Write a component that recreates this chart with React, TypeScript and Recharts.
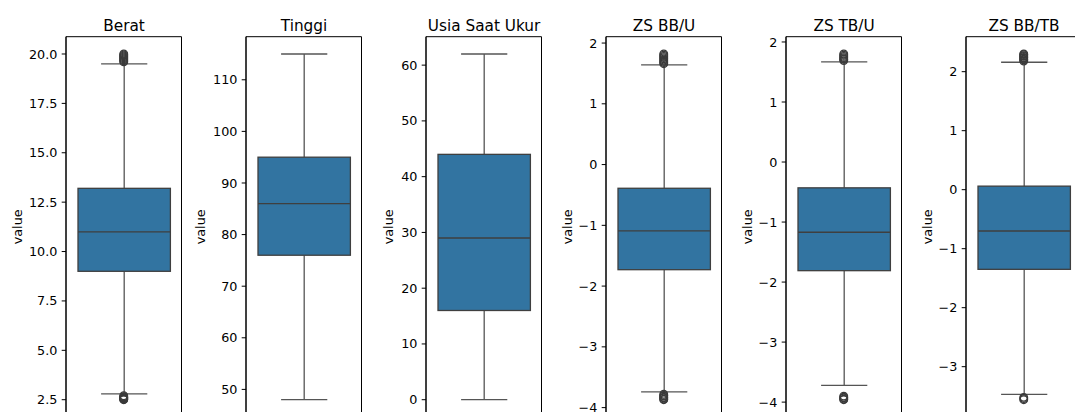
import React from "react";
import { ComposedChart, Bar, Scatter, XAxis, YAxis, ReferenceArea } from "recharts";

const CATEGORIES = ["Berat", "Tinggi", "Usia Saat Ukur", "ZS BB/U", "ZS TB/U", "ZS BB/TB"];
const WHISKER_LOW = [2.8, 48, 0, -3.74, -3.72, -3.47];
const Q1 = [9.0, 76, 16, -1.73, -1.81, -1.35];
const MEDIAN = [11.0, 86, 29, -1.09, -1.17, -0.7];
const Q3 = [13.2, 95, 44, -0.39, -0.43, 0.06];
const WHISKER_HIGH = [19.5, 115, 62, 1.64, 1.67, 2.16];
const OUTLIERS_HIGH = [
  [19.6, 19.65, 19.7, 19.75, 19.8, 19.85, 19.9, 19.95, 20.0],
  [],
  [],
  [1.66, 1.68, 1.7, 1.72, 1.74, 1.76, 1.78, 1.8, 1.82],
  [1.69, 1.71, 1.72, 1.74, 1.76, 1.78, 1.8],
  [2.18, 2.2, 2.21, 2.23, 2.24, 2.26, 2.27, 2.29, 2.3],
];
const OUTLIERS_LOW = [
  [2.5, 2.52, 2.55, 2.58, 2.6, 2.63, 2.65, 2.7],
  [],
  [],
  [-3.78, -3.8, -3.81, -3.83, -3.84, -3.86, -3.87],
  [-3.9, -3.92, -3.93, -3.95, -3.96],
  [-3.52, -3.54, -3.56],
];
const Y_TICKS = [
  [2.5, 5, 7.5, 10, 12.5, 15, 17.5, 20],
  [50, 60, 70, 80, 90, 100, 110],
  [0, 10, 20, 30, 40, 50, 60],
  [-4, -3, -2, -1, 0, 1, 2],
  [-4, -3, -2, -1, 0, 1, 2],
  [-3, -2, -1, 0, 1, 2],
];
const TICK_DECIMALS = [1, 0, 0, 0, 0, 0];
const LABEL_OFFSET = [49, 45.5, 38, 38.5, 39, 39];

const FONT = "DejaVu Sans, sans-serif";
const BOX_FILL = "#3274a1";
const LINE = "#3f3f3f";
const AXW = 60;
const PLOT_W = 115.5;
const PLOT_TOP = 36.7;
const PLOT_BOTTOM = 417;
const CH = 420;

const fmt = (v: number, d: number) => v.toFixed(d).replace("-", "\u2212");

function BoxShape(props: any) {
  const { x, y, width, height } = props;
  const p = props.payload ?? props;
  const top = Math.min(y, y + height);
  const bot = Math.max(y, y + height);
  const ppu = (bot - top) / (p.q3 - p.q1);
  const py = (v: number) => bot - (v - p.q1) * ppu;
  const cx = x + width / 2;
  const cap = width / 4;
  return (
    <g>
      <line x1={cx} x2={cx} y1={py(p.q3)} y2={py(p.hi)} stroke="#555" strokeWidth={1.3} />
      <line x1={cx} x2={cx} y1={py(p.q1)} y2={py(p.lo)} stroke="#555" strokeWidth={1.3} />
      <line x1={cx - cap} x2={cx + cap} y1={py(p.hi)} y2={py(p.hi)} stroke="#555" strokeWidth={1.3} />
      <line x1={cx - cap} x2={cx + cap} y1={py(p.lo)} y2={py(p.lo)} stroke="#555" strokeWidth={1.3} />
      <rect x={x} y={top} width={width} height={bot - top} fill={BOX_FILL} stroke={LINE} strokeWidth={1.3} />
      <line x1={x} x2={x + width} y1={py(p.med)} y2={py(p.med)} stroke={LINE} strokeWidth={1.3} />
    </g>
  );
}

const Flier = (props: any) => (
  <circle cx={props.cx} cy={props.cy} r={3.8} fill="none" stroke="#3a3a3a" strokeWidth={1.3} />
);

function Panel({ i }: { i: number }) {
  const name = CATEGORIES[i];
  const outliers = [...OUTLIERS_HIGH[i], ...OUTLIERS_LOW[i]];
  const all = [WHISKER_LOW[i], WHISKER_HIGH[i], ...outliers];
  const mn = Math.min(...all);
  const mx = Math.max(...all);
  const pad = (mx - mn) * 0.05;
  const lo = mn - pad;
  const hi = mx + pad;
  const row = {
    name,
    box: [Q1[i], Q3[i]],
    q1: Q1[i],
    q3: Q3[i],
    med: MEDIAN[i],
    lo: WHISKER_LOW[i],
    hi: WHISKER_HIGH[i],
  };
  const fliers = outliers.map((v) => ({ name, value: v }));
  const plotLeft = 66.3 + 180 * i;
  return (
    <div style={{ position: "absolute", left: plotLeft - AXW, top: 0 }}>
      <ComposedChart
        width={AXW + PLOT_W + 4}
        height={CH}
        data={[row]}
        margin={{ top: PLOT_TOP, right: 4, bottom: CH - PLOT_BOTTOM, left: 0 }}
      >
        <XAxis dataKey="name" type="category" hide allowDuplicatedCategory={false} />
        <YAxis
          type="number"
          domain={[lo, hi]}
          ticks={Y_TICKS[i]}
          allowDataOverflow
          width={AXW}
          tickSize={4.3}
          tickMargin={4.3}
          stroke="#000"
          tick={{ fontSize: 12.75, fill: "#000", fontFamily: FONT }}
          tickFormatter={(v: number) => fmt(v, TICK_DECIMALS[i])}
        />
        <ReferenceArea y1={lo} y2={hi} fill="none" stroke="#000" strokeWidth={1} ifOverflow="visible" />
        <Bar dataKey="box" barSize={PLOT_W * 0.8} shape={<BoxShape />} isAnimationActive={false} />
        <Scatter data={fliers} dataKey="value" shape={<Flier />} isAnimationActive={false} />
      </ComposedChart>
    </div>
  );
}

export default function App() {
  return (
    <div
      style={{
        position: "absolute",
        left: 0,
        top: 0,
        width: 1075,
        height: 412,
        overflow: "hidden",
        background: "#fff",
      }}
    >
      {CATEGORIES.map((_, i) => (
        <Panel key={i} i={i} />
      ))}
      <svg width={1075} height={412} style={{ position: "absolute", left: 0, top: 0, pointerEvents: "none" }}>
        {CATEGORIES.map((c, i) => {
          const plotLeft = 66.3 + 180 * i;
          const ly = (PLOT_TOP + PLOT_BOTTOM) / 2;
          const lx = plotLeft - LABEL_OFFSET[i];
          return (
            <g key={c}>
              <text
                x={plotLeft + PLOT_W / 2}
                y={30.5}
                textAnchor="middle"
                fontSize={15.3}
                fontFamily={FONT}
                fill="#000"
              >
                {c}
              </text>
              <text
                x={lx}
                y={ly}
                transform={`rotate(-90 ${lx} ${ly})`}
                textAnchor="middle"
                dominantBaseline="central"
                fontSize={12.75}
                fontFamily={FONT}
                fill="#000"
              >
                value
              </text>
            </g>
          );
        })}
      </svg>
    </div>
  );
}
